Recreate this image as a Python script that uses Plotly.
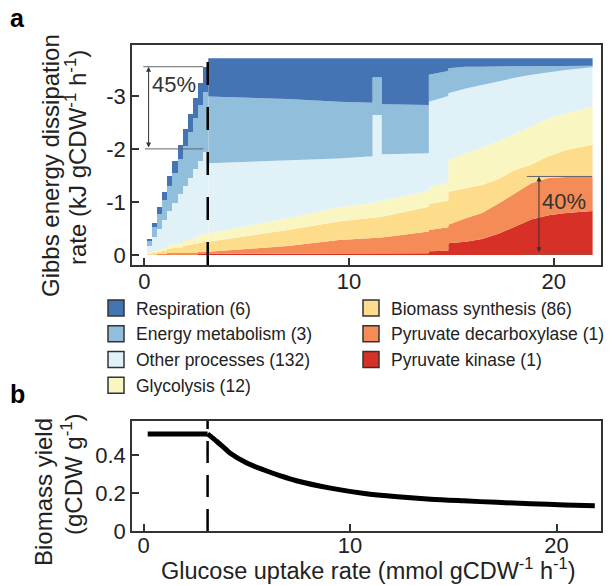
import numpy as np
import plotly.graph_objects as go

# ---------------- Panel a data (kJ gCDW-1 h-1, negative = dissipation) ----------------
# Respiratory regime: discrete columns at low glucose uptake
stair_uptake = [0.25, 0.5, 0.75, 1.0, 1.25, 1.5, 1.75, 2.0, 2.25, 2.5, 2.75, 3.0]
stair_pyruvate_kinase = [0.00, 0.00, 0.00, -0.01, -0.01, -0.01, -0.01, -0.01, -0.01, -0.01, -0.02, -0.02]
stair_pyruvate_decarboxylase = [0.00, -0.01, -0.01, -0.01, -0.02, -0.02, -0.02, -0.03, -0.03, -0.03, -0.04, -0.04]
stair_biomass = [-0.02, -0.03, -0.05, -0.06, -0.08, -0.10, -0.11, -0.13, -0.14, -0.16, -0.17, -0.19]
stair_glycolysis = [-0.01, -0.03, -0.04, -0.05, -0.07, -0.08, -0.09, -0.11, -0.12, -0.13, -0.15, -0.16]
stair_other = [-0.13, -0.26, -0.39, -0.53, -0.64, -0.77, -0.91, -1.02, -1.16, -1.30, -1.40, -1.54]
stair_energy = [-0.10, -0.20, -0.29, -0.38, -0.48, -0.57, -0.67, -0.76, -0.85, -0.95, -1.04, -1.13]
stair_respiration = [-0.04, -0.08, -0.12, -0.15, -0.19, -0.23, -0.27, -0.31, -0.35, -0.38, -0.42, -0.46]

# Fermentative regime: values at breakpoints (repeated x = abrupt change)
plateau_uptake = [3.125, 7.0, 9.5, 11.15, 11.15, 11.6, 11.6, 13.9, 13.9, 14.85, 14.85,
                  15.7, 16.5, 17.3, 18.1, 18.9, 19.75, 20.6, 21.9]
plat_pyruvate_kinase = [-0.02, -0.02, -0.03, -0.03, -0.03, -0.03, -0.03, -0.03, -0.07, -0.08, -0.22,
                        -0.25, -0.30, -0.40, -0.53, -0.67, -0.75, -0.79, -0.83]
plat_pyruvate_decarboxylase = [-0.04, -0.15, -0.25, -0.28, -0.28, -0.30, -0.30, -0.41, -0.40, -0.44, -0.35,
                               -0.44, -0.49, -0.57, -0.63, -0.68, -0.70, -0.68, -0.65]
plat_biomass = [-0.19, -0.30, -0.35, -0.38, -0.38, -0.39, -0.39, -0.47, -0.49, -0.50, -0.62,
                -0.57, -0.53, -0.46, -0.44, -0.35, -0.41, -0.51, -0.60]
plat_glycolysis = [-0.16, -0.22, -0.27, -0.29, -0.29, -0.30, -0.30, -0.29, -0.32, -0.34, -0.60,
                   -0.65, -0.70, -0.71, -0.68, -0.72, -0.72, -0.69, -0.72]
plat_other = [-1.32, -1.10, -0.92, -0.88, -1.66, -1.62, -0.88, -0.72, -1.61, -1.64, -1.26,
              -1.23, -1.19, -1.13, -1.06, -0.98, -0.87, -0.82, -0.74]
plat_energy = [-1.26, -1.15, -1.07, -1.01, -0.71, -0.71, -0.94, -0.91, -0.51, -0.47, -0.47,
               -0.41, -0.34, -0.29, -0.22, -0.16, -0.11, -0.08, -0.03]
plat_respiration = [-0.72, -0.77, -0.82, -0.84, -0.36, -0.36, -0.87, -0.88, -0.31, -0.24, -0.19,
                    -0.16, -0.16, -0.15, -0.15, -0.15, -0.15, -0.14, -0.14]

switch_uptake = 3.1  # onset of overflow metabolism (dashed line)

# ---------------- Panel b data ----------------
yield_uptake_resp = [0.2, 3.1]
biomass_yield_resp = [0.512, 0.512]
yield_uptake = [3.1, 3.55, 3.96, 4.2, 5.0, 5.8, 6.63, 7.4, 9.05, 10.7, 12.3, 13.9,
                15.5, 17.1, 18.75, 20.4, 21.85]
biomass_yield = [0.512, 0.472, 0.433, 0.410, 0.358, 0.323, 0.291, 0.265, 0.226, 0.198,
                 0.181, 0.168, 0.159, 0.151, 0.144, 0.137, 0.133]

# ---------------- categories (bottom to top of the stack) ----------------
names = ["Pyruvate kinase (1)", "Pyruvate decarboxylase (1)", "Biomass synthesis (86)",
         "Glycolysis (12)", "Other processes (132)", "Energy metabolism (3)", "Respiration (6)"]
colors = ["#d73027", "#f58c57", "#fddc8c", "#faf6c1", "#e0f2f8", "#91bedb", "#4574b5"]
stair_series = [stair_pyruvate_kinase, stair_pyruvate_decarboxylase, stair_biomass,
                stair_glycolysis, stair_other, stair_energy, stair_respiration]
plat_series = [plat_pyruvate_kinase, plat_pyruvate_decarboxylase, plat_biomass,
               plat_glycolysis, plat_other, plat_energy, plat_respiration]
# legend column and rank within column
legend_group = ["legend2", "legend2", "legend2", "legend", "legend", "legend", "legend"]
legend_rank = [3, 2, 1, 4, 3, 2, 1]

FONT = "Liberation Sans, Arial, Helvetica, sans-serif"
TXT = "#222222"
FRAME = "#333333"

fig = go.Figure()

for name, col, s in zip(names, colors, stair_series):
    fig.add_trace(go.Bar(x=stair_uptake, y=s, marker=dict(color=col, line=dict(width=0)),
                         showlegend=False, hoverinfo="skip", xaxis="x", yaxis="y"))

cum = np.zeros(len(plateau_uptake))
for i, (name, col, s) in enumerate(zip(names, colors, plat_series)):
    cum = cum + np.array(s)
    fig.add_trace(go.Scatter(x=plateau_uptake, y=cum.copy(), mode="lines",
                             line=dict(width=0, color=col),
                             fill="tozeroy" if i == 0 else "tonexty", fillcolor=col,
                             showlegend=False, hoverinfo="skip", xaxis="x", yaxis="y"))

for name, col, lg, rk in zip(names, colors, legend_group, legend_rank):
    fig.add_trace(go.Scatter(x=[None], y=[None], mode="markers", name=name, legendrank=rk,
                             legend=lg,
                             marker=dict(symbol="square", size=16, color=col,
                                         line=dict(color=FRAME, width=1.5)),
                             xaxis="x", yaxis="y"))

fig.add_trace(go.Scatter(x=yield_uptake_resp, y=biomass_yield_resp, mode="lines",
                         line=dict(color="black", width=5), showlegend=False,
                         xaxis="x2", yaxis="y2"))
fig.add_trace(go.Scatter(x=yield_uptake, y=biomass_yield, mode="lines",
                         line=dict(color="black", width=5, shape="spline", smoothing=0.8),
                         showlegend=False, xaxis="x2", yaxis="y2"))

W, H = 609, 585
ML, MR, MT, MB = 132, 8, 45, 54
PW, PH = W - ML - MR, H - MT - MB


def px(x):
    return (x - ML) / PW


def py(y):
    return (H - MB - y) / PH


axis_common = dict(showline=True, mirror=True, linecolor=FRAME, linewidth=1.5,
                   ticks="inside", ticklen=7, tickwidth=1.5, tickcolor=FRAME,
                   showgrid=False, zeroline=False,
                   tickfont=dict(family=FONT, size=22, color=TXT))

legend_common = dict(orientation="v", xanchor="left", yanchor="top", itemsizing="trace",
                     font=dict(family=FONT, size=17.5, color=TXT), bgcolor="rgba(0,0,0,0)",
                     tracegroupgap=0, itemwidth=30, traceorder="normal")

fig.update_layout(
    width=W, height=H,
    margin=dict(l=ML, r=MR, t=MT, b=MB, autoexpand=False),
    paper_bgcolor="white", plot_bgcolor="white",
    barmode="relative", bargap=0,
    font=dict(family=FONT, color=TXT),
    xaxis=dict(domain=[0, 1], anchor="y", range=[-0.60, 22.31], tickvals=[0, 10, 20],
               ticklabelstandoff=-4, **axis_common),
    yaxis=dict(domain=[py(265), 1], anchor="x", range=[0.19, -3.96],
               tickvals=[-3, -2, -1, 0], ticktext=["-3", "-2", "-1", "0"], **axis_common),
    xaxis2=dict(domain=[0, 1], anchor="y2", range=[-0.56, 22.15], tickvals=[0, 10, 20],
                ticklabelstandoff=-6, **axis_common),
    yaxis2=dict(domain=[0, py(421)], anchor="x2", range=[0, 0.58],
                tickvals=[0, 0.2, 0.4], ticktext=["0", "0.2", "0.4"], **axis_common),
    legend=dict(x=px(96), y=py(290), **legend_common),
    legend2=dict(x=px(351), y=py(290), **legend_common),
    showlegend=True,
)

shapes = [
    dict(type="line", xref="x", yref="y domain", x0=switch_uptake, x1=switch_uptake, y0=0, y1=1,
         line=dict(color="black", width=2.5, dash="23px,22px"), layer="above"),
    dict(type="line", xref="x2", yref="y2 domain", x0=switch_uptake, x1=switch_uptake, y0=0, y1=1,
         line=dict(color="black", width=2.5, dash="22px,12px"), layer="above"),
    # 45 % bracket
    dict(type="line", xref="x", yref="y", x0=-0.05, x1=2.88, y0=-3.55, y1=-3.55,
         line=dict(color="#666666", width=1), layer="above"),
    dict(type="line", xref="x", yref="y", x0=0.03, x1=2.88, y0=-2.0, y1=-2.0,
         line=dict(color="#666666", width=1), layer="above"),
    # 40 % bracket
    dict(type="line", xref="x", yref="y", x0=18.69, x1=21.87, y0=-1.48, y1=-1.48,
         line=dict(color="#666666", width=1), layer="above"),
    dict(type="line", xref="x", yref="y", x0=18.5, x1=21.87, y0=-0.02, y1=-0.02,
         line=dict(color="#666666", width=1), layer="above"),
]
fig.update_layout(shapes=shapes)

C = dict(xanchor="center", yanchor="middle", showarrow=False)
ann = [
    dict(x=0.21, y=-3.55, ax=0.21, ay=-2.0, xref="x", yref="y", axref="x", ayref="y",
         showarrow=True, arrowhead=2, arrowside="end+start", arrowsize=1, arrowwidth=1,
         arrowcolor="#333333", text="", standoff=0, startstandoff=0),
    dict(x=1.46, y=-3.21, xref="x", yref="y", text="45%",
         font=dict(family=FONT, size=22, color="#333333"), **C),
    dict(x=19.28, y=-1.48, ax=19.28, ay=-0.02, xref="x", yref="y", axref="x", ayref="y",
         showarrow=True, arrowhead=2, arrowside="end+start", arrowsize=1, arrowwidth=1,
         arrowcolor="#333333", text="", standoff=0, startstandoff=0),
    dict(x=20.49, y=-1.01, xref="x", yref="y", text="40%",
         font=dict(family=FONT, size=22, color="#333333"), **C),
    # axis titles
    dict(x=px(50), y=py(166), xref="paper", yref="paper", text="Gibbs energy dissipation",
         textangle=-90, font=dict(family=FONT, size=24, color=TXT), **C),
    dict(x=px(76), y=py(158), xref="paper", yref="paper",
         text="rate (kJ gCDW<sup>-1</sup> h<sup>-1</sup>)",
         textangle=-90, font=dict(family=FONT, size=24, color=TXT), **C),
    dict(x=px(43), y=py(492), xref="paper", yref="paper", text="Biomass yield",
         textangle=-90, font=dict(family=FONT, size=24, color=TXT), **C),
    dict(x=px(72), y=py(474), xref="paper", yref="paper", text="(gCDW g<sup>-1</sup>)",
         textangle=-90, font=dict(family=FONT, size=24, color=TXT), **C),
    dict(x=px(368), y=py(569), xref="paper", yref="paper",
         text="Glucose uptake rate (mmol gCDW<sup>-1</sup> h<sup>-1</sup>)",
         font=dict(family=FONT, size=23.5, color=TXT), **C),
    # panel labels
    dict(x=px(17), y=py(18), xref="paper", yref="paper", text="<b>a</b>",
         font=dict(family=FONT, size=25, color="black"), **C),
    dict(x=px(17), y=py(394), xref="paper", yref="paper", text="<b>b</b>",
         font=dict(family=FONT, size=25, color="black"), **C),
]
fig.update_layout(annotations=ann)

fig.write_html("out.html", config={"displayModeBar": False},
               post_script="document.body.style.margin='0px';")
